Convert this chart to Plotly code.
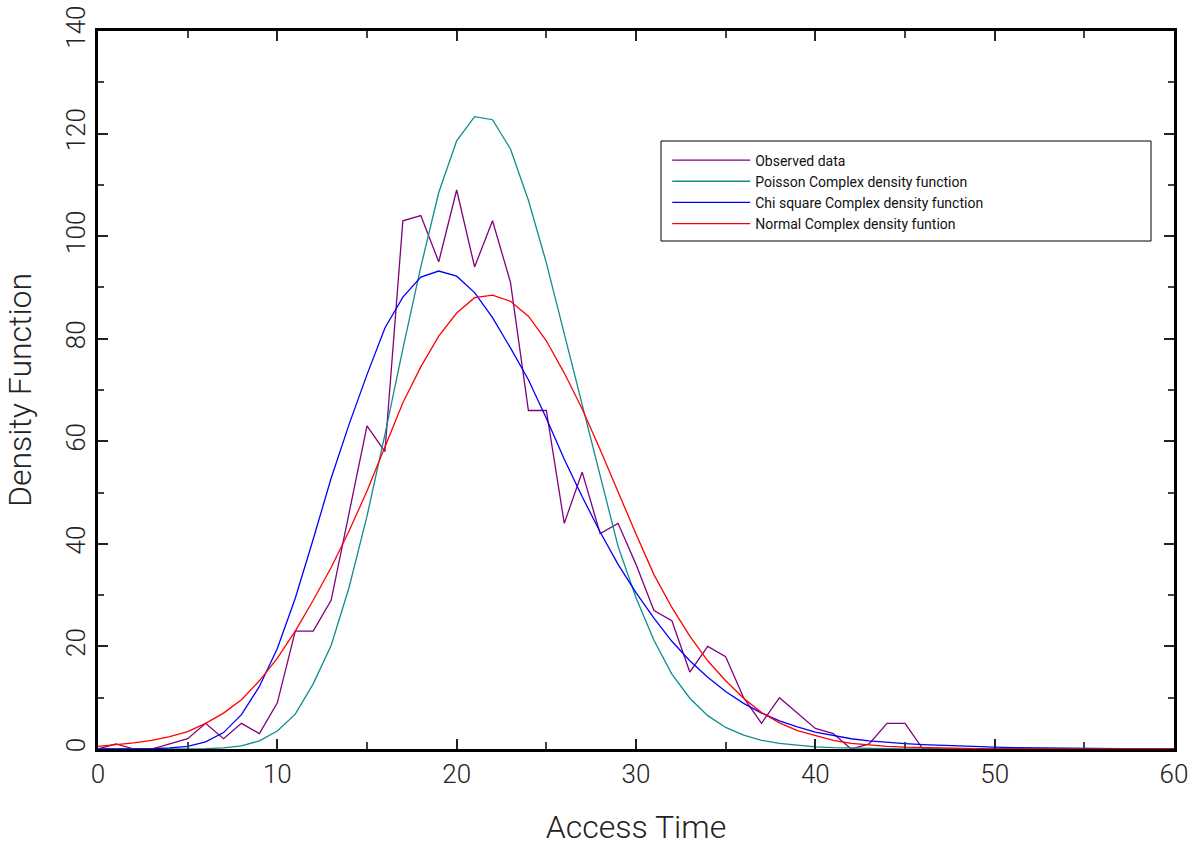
import plotly.graph_objects as go

access_time = list(range(0, 61))

observed = [0, 1, 0, 0, 1, 2, 5, 2, 5, 3, 9, 23, 23, 29, 46, 63, 58, 103, 104, 95,
            109, 94, 103, 91, 66, 66, 44, 54, 42, 44, 36, 27, 25, 15, 20, 18, 10, 5, 10, 7,
            4, 3, 0, 1, 5, 5, 0, 0, 0, 0, 0, 0, 0, 0, 0, 0, 0, 0, 0, 0, 0]

poisson = [0, 0, 0, 0, 0, 0, 0.05, 0.2, 0.6, 1.6, 3.5, 6.8, 12.7, 20.2, 31.5, 45.4, 61.3, 78, 94, 108.5,
           118.6, 123.3, 122.7, 117, 107, 94.8, 81, 67.5, 53.5, 39.5, 29.5, 21.2, 14.6, 9.9, 6.5, 4.2, 2.7, 1.7, 1.1, 0.7,
           0.4, 0.25, 0.15, 0.1, 0.05, 0.03, 0.02, 0.01, 0, 0, 0, 0, 0, 0, 0, 0, 0, 0, 0, 0, 0]

chi_square = [0, 0, 0, 0.05, 0.2, 0.5, 1.4, 3.2, 6.7, 12.2, 19.6, 29.4, 40.9, 52.8, 63.3, 73, 82.1, 88.1, 92, 93.2,
              92.2, 89, 84.1, 78.2, 72, 64.5, 56.5, 49.2, 42.3, 36, 30.5, 25.5, 21, 17.2, 14, 11.2, 8.9, 7, 5.5, 4.3,
              3.3, 2.6, 2.0, 1.6, 1.3, 1.05, 0.85, 0.7, 0.55, 0.45, 0.35, 0.28, 0.22, 0.17, 0.13, 0.1, 0.08, 0.06, 0.05, 0.04, 0.03]

normal = [0.5, 0.8, 1.2, 1.7, 2.4, 3.4, 5, 7, 9.6, 13.3, 17.7, 23, 29, 35.4, 42.5, 50.3, 59, 67.5, 74.5, 80.5,
          85, 88, 88.5, 87.3, 84.4, 79.6, 73.3, 66.3, 58.4, 50, 41.9, 34, 27.6, 22, 17.2, 13.3, 9.9, 7.1, 5.1, 3.6,
          2.6, 1.7, 1.1, 0.8, 0.5, 0.35, 0.25, 0.15, 0.1, 0.06, 0.04, 0.02, 0.01, 0, 0, 0, 0, 0, 0, 0, 0]

series_names = ["Observed data", "Poisson Complex density function",
                "Chi square Complex density function", "Normal Complex density funtion"]
series_colors = ["#800080", "#108c8c", "#0000ff", "#ff0000"]
series_values = [observed, poisson, chi_square, normal]

x_ticks = [0, 10, 20, 30, 40, 50, 60]
y_ticks = [0, 20, 40, 60, 80, 100, 120, 140]

FONT = "Roboto"

fig = go.Figure()
for name, color, vals in zip(series_names, series_colors, series_values):
    fig.add_trace(go.Scatter(x=access_time, y=vals, mode="lines", name=name,
                             line=dict(color=color, width=1.3), cliponaxis=True))

axis_common = dict(
    showline=True, linecolor="black", linewidth=3, mirror="allticks",
    ticks="inside", ticklen=10, tickwidth=1.5, tickcolor="#222",
    showgrid=False, zeroline=False,
    tickfont=dict(family=FONT, size=26, color="#222", weight=300),
)

fig.update_layout(
    width=1198, height=846,
    margin=dict(l=98, r=24, t=31, b=97, autoexpand=False),
    paper_bgcolor="white", plot_bgcolor="white",
    font=dict(family=FONT, color="#222"),
    xaxis=dict(range=[0, 60], tickvals=x_ticks, ticktext=[str(v) for v in x_ticks],
               minor=dict(tickvals=list(range(5, 60, 10)), ticks="inside", ticklen=7,
                          tickwidth=1.5, tickcolor="#444"),
               title=dict(text="Access Time", font=dict(family=FONT, size=32, color="#222", weight=300),
                          standoff=28),
               **axis_common),
    yaxis=dict(range=[0, 140], tickvals=y_ticks, ticktext=[str(v) for v in y_ticks], tickangle=-90,
               minor=dict(tickvals=list(range(10, 140, 20)), ticks="inside", ticklen=6,
                          tickwidth=1.5, tickcolor="#444"),
               title=dict(text="Density Function", font=dict(family=FONT, size=32, color="#222", weight=300),
                          standoff=20),
               **axis_common),
    showlegend=True,
    legend=dict(x=0.529, y=0.842, xanchor="left", yanchor="top",
                bgcolor="rgba(0,0,0,0)", borderwidth=0, itemwidth=78,
                font=dict(family=FONT, size=14, color="#111"), tracegroupgap=0),
)

fig.add_shape(type="rect", xref="paper", yref="paper",
              x0=(661 - 98) / 1076, x1=(1151 - 98) / 1076,
              y0=(749 - 241) / 718, y1=(749 - 141) / 718,
              line=dict(color="black", width=1), fillcolor="rgba(0,0,0,0)", layer="above")

fig.write_html("out.html")
